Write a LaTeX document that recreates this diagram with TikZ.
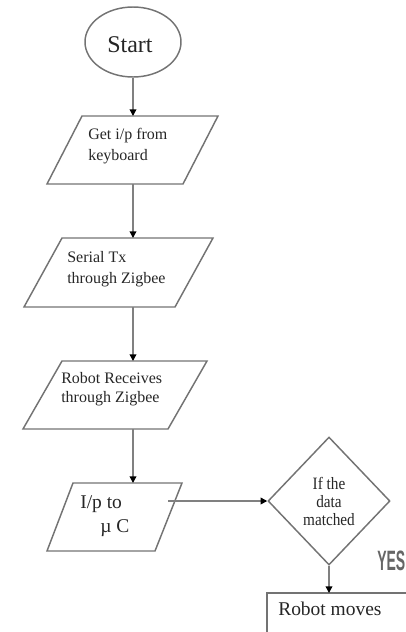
\documentclass[tikz,border=0pt]{standalone}
\usepackage{fontspec}
\setmainfont{Liberation Serif}
\newfontfamily\condfont[FakeStretch=0.88]{Liberation Serif}
\newfontfamily\yesfont[FakeStretch=0.5]{Liberation Sans}
\usetikzlibrary{shapes.geometric,arrows.meta}
\begin{document}
\begin{tikzpicture}[x=0.75pt,y=-0.75pt,
  shapeline/.style={draw=black!55, line width=1.1pt},
  conn/.style={draw=black!50, line width=1pt, -{Triangle[length=5pt,width=5pt,fill=black,color=black]}},
  txt/.style={inner sep=0, text=black!85, font=\fontsize{12}{14}\selectfont, anchor=base west},
  bigtxt/.style={txt, font=\fontsize{14.6}{17}\selectfont}]
\useasboundingbox (0,0) rectangle (405,632);
% Start ellipse
\node[ellipse, shapeline, minimum width=72pt, minimum height=52.5pt, inner sep=0] (st) at (133,42) {};
\node[txt, font=\fontsize{18}{20}\selectfont] (sttxt) at (107,52) {Start};
% parallelogram 1
\draw[shapeline] (82,116) -- (218,116) -- (183,184) -- (47,184) -- cycle;
\coordinate (p1t) at (133,116);
\coordinate (p1b) at (133,184);
\node[txt] (p1a) at (88,139) {Get i/p from};
\node[txt] (p1c) at (88,160) {keyboard};
% parallelogram 2
\draw[shapeline] (62,238) -- (213,238) -- (175,307) -- (24,307) -- cycle;
\coordinate (p2t) at (133,238);
\coordinate (p2b) at (133,307);
\node[txt] (p2a) at (67,262) {Serial Tx};
\node[txt] (p2c) at (67,283) {through Zigbee};
% parallelogram 3
\draw[shapeline] (62,361) -- (207,361) -- (168,429) -- (23,429) -- cycle;
\coordinate (p3t) at (133,361);
\coordinate (p3b) at (133,429);
\node[txt] (p3a) at (61,383) {Robot Receives};
\node[txt] (p3c) at (61,402) {through Zigbee};
% parallelogram 4
\draw[shapeline] (73,483) -- (182,483) -- (155,551) -- (47,551) -- cycle;
\coordinate (p4t) at (133,483);
\coordinate (p4r) at (168,501);
\node[bigtxt] (p4a) at (80,508) {I/p to};
\node[bigtxt] (p4c) at (100,532) {µ C};
% decision
\node[diamond, shapeline, minimum width=91.5pt, minimum height=96pt, inner sep=0,
  align=center, text=black!85, font=\condfont\fontsize{13}{13.5}\selectfont] (dia) at (329,501) {If the\\data\\matched};
% YES
\node[inner sep=0, anchor=base west, text=black!60, font=\yesfont\bfseries\fontsize{21}{22}\selectfont] (yes) at (377,570) {YES};
% Robot moves box
\draw[shapeline] (412,593) -- (267,593) -- (267,640);
\coordinate (rt) at (329,593);
\node[bigtxt] (rm) at (278,615) {Robot moves};
% connectors
\draw[conn] (st.south) -- (p1t);
\draw[conn] (p1b) -- (p2t);
\draw[conn] (p2b) -- (p3t);
\draw[conn] (p3b) -- (p4t);
\draw[conn] (p4r) -- (dia.west);
\draw[conn] (dia.south) -- (rt);
\end{tikzpicture}
\end{document}
